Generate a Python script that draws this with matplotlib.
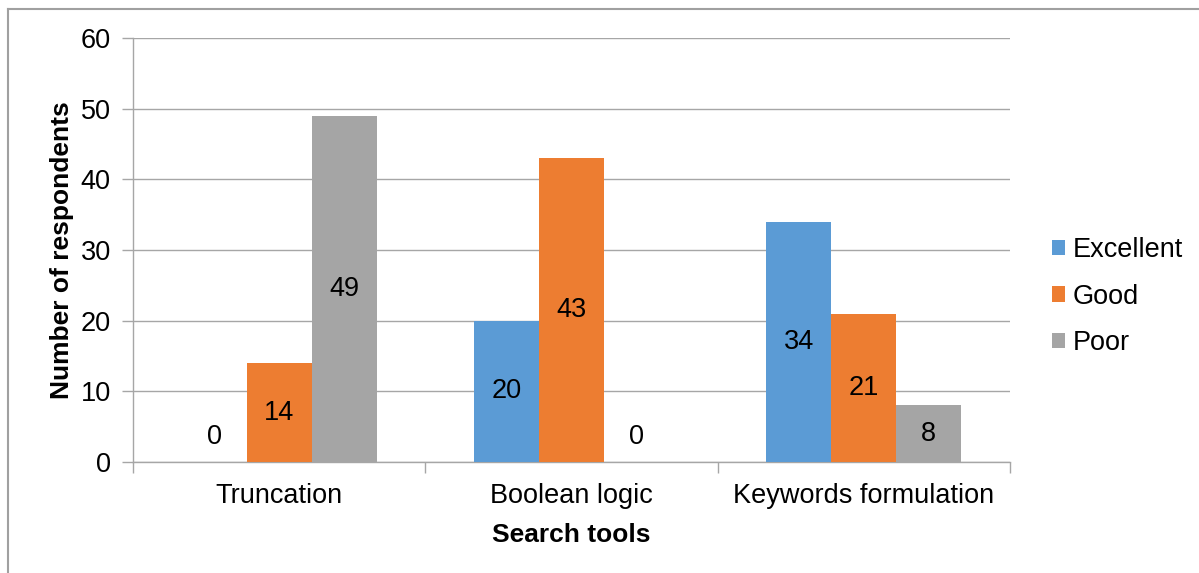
import matplotlib.pyplot as plt
from matplotlib.lines import Line2D
import numpy as np

plt.rcParams['font.family'] = ['Liberation Sans', 'DejaVu Sans']

categories = ['Truncation', 'Boolean logic', 'Keywords formulation']
series = ['Excellent', 'Good', 'Poor']
excellent = [0, 20, 34]
good = [14, 43, 21]
poor = [49, 0, 8]
colors = ['#5B9BD5', '#ED7D31', '#A5A5A5']

W, H = 1199, 573
FS = 19.5
fig = plt.figure(figsize=(W / 100, H / 100), dpi=100)
ax = fig.add_axes([133 / W, 1 - 462 / H, (1010 - 133) / W, (462 - 38) / H])

x = np.arange(len(categories))
width = 1 / 4.5  # gap width 150%
grid_color = '#A6A6A6'

for i, (name, vals, c) in enumerate(zip(series, [excellent, good, poor], colors)):
    pos = x + (i - 1) * width
    bars = ax.bar(pos, vals, width, color=c, label=name, zorder=3)
    for b, v in zip(bars, vals):
        if v == 0:
            ax.annotate(str(v), (b.get_x() + b.get_width() / 2, 0), xytext=(0, 25),
                        textcoords='offset pixels', ha='center', va='center', fontsize=FS)
        else:
            ax.text(b.get_x() + b.get_width() / 2, v / 2, str(v),
                    ha='center', va='center', fontsize=FS, zorder=4)

ax.set_xlim(-0.5, len(categories) - 0.5)
ax.set_ylim(0, 60)
ax.set_yticks(range(0, 61, 10))
ax.yaxis.grid(True, color=grid_color, linewidth=1, zorder=0)
ax.set_xticks(x)
ax.set_xticklabels(categories, fontsize=FS)
ax.set_xticks(np.arange(-0.5, len(categories)), minor=True)
ax.tick_params(axis='x', which='major', length=0, pad=15)
ax.tick_params(axis='x', which='minor', length=8, color=grid_color, width=1)
ax.tick_params(axis='y', length=8, color=grid_color, width=1, labelsize=FS, pad=8)

for s in ['top', 'right']:
    ax.spines[s].set_visible(False)
for s in ['left', 'bottom']:
    ax.spines[s].set_color(grid_color)
    ax.spines[s].set_linewidth(1)

ax.set_xlabel('Search tools', fontsize=19, fontweight='bold', labelpad=10)
ax.set_ylabel('Number of respondents', fontsize=19, fontweight='bold', labelpad=5)

ax.legend(loc='center left', bbox_to_anchor=(1.048, 0.39), frameon=False, fontsize=FS,
          borderpad=0, borderaxespad=0,
          handlelength=0.48, handleheight=0.48, handletextpad=0.27, labelspacing=0.75)

# outer chart frame
fig.add_artist(Line2D([8 / W, 8 / W], [0, 1 - 9 / H], color='#A0A0A0', linewidth=1.5,
                      transform=fig.transFigure))
fig.add_artist(Line2D([8 / W, 1], [1 - 9 / H, 1 - 9 / H], color='#A0A0A0', linewidth=1.5,
                      transform=fig.transFigure))

fig.savefig('out.png', dpi=100)
